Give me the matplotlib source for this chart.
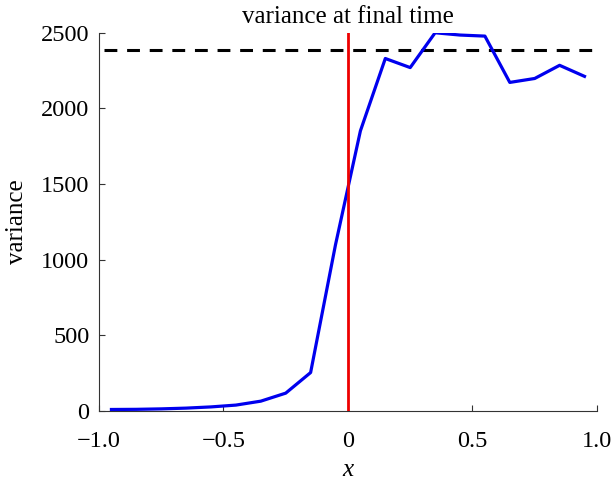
import matplotlib
matplotlib.use("Agg")
import matplotlib.pyplot as plt
import numpy as np

x = [-0.95, -0.85, -0.75, -0.65, -0.55, -0.45, -0.35, -0.25, -0.15, -0.05,
     0.05, 0.15, 0.25, 0.35, 0.45, 0.55, 0.65, 0.75, 0.85, 0.95]
variance = [11, 12, 15, 20, 28, 40, 66, 119, 255, 1100,
            1852, 2330, 2270, 2500, 2485, 2478, 2172, 2198, 2285, 2212]
final_variance = 2385
xticks = [-1.0, -0.5, 0, 0.5, 1.0]
xticklabels = ["\u22121.0", "\u22120.5", "0", "0.5", "1.0"]
yticks = [0, 500, 1000, 1500, 2000, 2500]

plt.rcParams['font.family'] = ['Liberation Serif', 'DejaVu Serif']
plt.rcParams['font.size'] = 17

fig = plt.figure(figsize=(6.11, 4.82), dpi=100)
ax = fig.add_axes([0.162, 0.147, 0.815, 0.785])

ax.plot(x, variance, color='#0000ee', lw=2.3, zorder=3)
ax.axhline(final_variance, xmin=0.01, xmax=0.99, color='black', lw=2.2, ls=(0, (4.2, 3.2)), zorder=2)
ax.axvline(0, color='#ee0000', lw=2.0, zorder=4)

ax.set_xlim(-1, 1)
ax.set_ylim(0, 2500)
ax.set_xticks(xticks)
ax.set_xticklabels(xticklabels)
ax.set_yticks(yticks)
ax.spines['top'].set_visible(False)
ax.spines['right'].set_visible(False)
ax.spines['left'].set_color('#333333')
ax.spines['bottom'].set_color('#333333')
ax.tick_params(direction='in', length=4, color='#333333', labelsize=17.5)
ax.tick_params(axis='x', pad=14)
ax.tick_params(axis='y', pad=7)
ax.set_xlabel('x', style='italic', fontsize=18, labelpad=5)
ax.set_ylabel('variance', fontsize=18, labelpad=9)
ax.set_title('variance at final time', fontsize=18, pad=7)

fig.savefig('out.png', dpi=100)
